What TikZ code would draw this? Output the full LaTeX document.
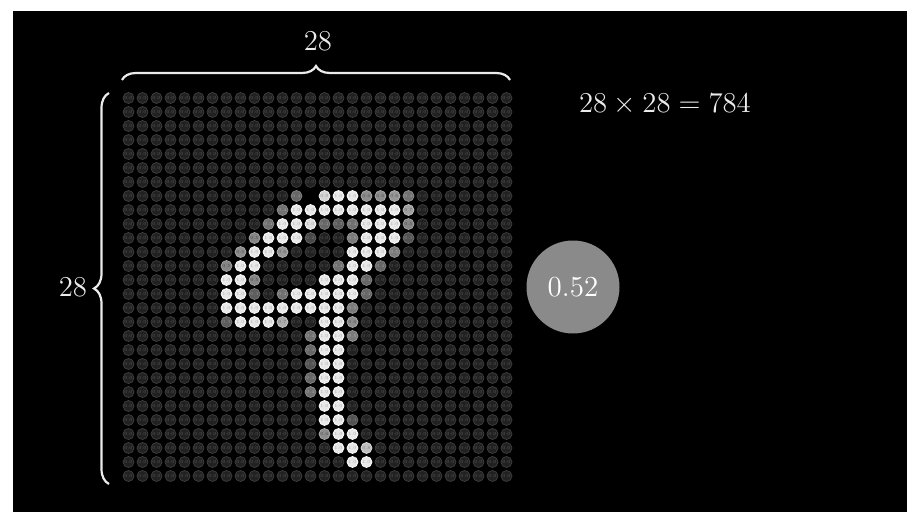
\documentclass[tikz,border=0pt]{standalone}
\usepackage{tikz}
\usetikzlibrary{decorations.pathreplacing}
\colorlet{pixink}{white!92!black}
\colorlet{pixframe}{black}
\tikzset{
  pixcell/.style={circle,inner sep=0pt,minimum size=5.5pt,line width=0.35pt,
                  font=\fontsize{2.3}{3}\selectfont},
  pixhole/.style={pixcell,fill=black,draw=black,text=black},
  pixbrace/.style={decorate,decoration={brace,amplitude=#1},draw=pixink,line width=1.1pt},
  pixlabel/.style={text=pixink,font=\fontsize{15.5}{18}\selectfont},
  pixout/.style={circle,fill=white!54!black,minimum size=46.5pt,inner sep=0pt,
                 text=white,font=\fontsize{14.5}{17}\selectfont}
}
\foreach \row/\col/\pval in {
  7/12/0.35,7/14/0.9,7/15/1.0,7/16/1.0,7/17/0.55,7/18/0.55,7/19/0.6,7/20/0.4,
  8/11/0.4,8/12/1.0,8/13/1.0,8/14/1.0,8/15/1.0,8/16/1.0,8/17/1.0,8/18/1.0,8/19/1.0,8/20/0.65,
  9/10/0.4,9/11/1.0,9/12/1.0,9/13/0.95,9/14/0.35,9/15/0.3,9/16/0.4,9/17/1.0,9/18/1.0,9/19/1.0,9/20/0.5,
  10/9/0.5,10/10/1.0,10/11/1.0,10/12/1.0,10/13/0.2,10/16/0.45,10/17/1.0,10/18/1.0,10/19/1.0,10/20/0.25,
  11/8/0.55,11/9/1.0,11/10/1.0,11/11/0.6,11/16/1.0,11/17/1.0,11/18/1.0,11/19/0.45,
  12/7/0.5,12/8/1.0,12/9/1.0,12/15/0.4,12/16/1.0,12/17/1.0,12/18/0.35,
  13/7/1.0,13/8/1.0,13/9/0.5,13/14/1.0,13/15/1.0,13/16/1.0,13/17/0.35,
  14/7/1.0,14/8/1.0,14/9/0.3,14/11/0.4,14/12/1.0,14/13/1.0,14/14/1.0,14/15/1.0,14/16/1.0,14/17/0.35,
  15/7/1.0,15/8/1.0,15/9/1.0,15/10/1.0,15/11/1.0,15/12/1.0,15/13/1.0,15/14/1.0,15/15/1.0,15/16/0.45,
  16/7/0.3,16/8/1.0,16/9/1.0,16/10/1.0,16/11/0.7,16/14/1.0,16/15/1.0,16/16/0.55,
  17/13/0.4,17/14/1.0,17/15/1.0,17/16/0.45,
  18/13/0.35,18/14/1.0,18/15/1.0,
  19/13/0.25,19/14/1.0,19/15/1.0,
  20/13/0.35,20/14/1.0,20/15/1.0,
  21/13/0.4,21/14/1.0,21/15/1.0,
  22/14/1.0,22/15/1.0,
  23/14/1.0,23/15/1.0,23/16/0.25,
  24/14/0.55,24/15/1.0,24/16/1.0,
  25/15/1.0,25/16/1.0,25/17/0.8,
  26/16/1.0,26/17/1.0}{
  \expandafter\xdef\csname pv-\row-\col\endcsname{\pval}
}
\expandafter\gdef\csname pk-7-13\endcsname{}
\begin{document}
\begin{tikzpicture}[x=0.5pt,y=-0.5pt]
  \useasboundingbox (0,0) rectangle (916,524);
  \fill[white] (0,0) rectangle (916,524);
  \fill[pixframe] (13,11) rectangle (907,512);

  \foreach \row in {0,...,27}{
    \foreach \col in {0,...,27}{
      \ifcsname pv-\row-\col\endcsname
        \edef\pv{\csname pv-\row-\col\endcsname}
      \else
        \def\pv{0}
      \fi
      \pgfmathtruncatemacro\lvl{13+78*\pv}
      \pgfmathtruncatemacro\elvl{min(100,\lvl+12)}
      \pgfmathtruncatemacro\tlvl{\lvl<50 ? \lvl+22 : \lvl-24}
      \ifcsname pk-\row-\col\endcsname
        \node[pixhole] (p-\row-\col) at ({128.5+14*\col},{98+14*\row}) {0.0};
      \else
        \node[pixcell,fill=white!\lvl!black,draw=white!\elvl!black,text=white!\tlvl!black]
          (p-\row-\col) at ({128.5+14*\col},{98+14*\row})
          {\pgfmathprintnumber[fixed,precision=1,fixed zerofill,assume math mode=true]{\pv}};
      \fi
    }
  }

  \coordinate (topl) at (122,80);
  \coordinate (topr) at (510,80);
  \coordinate (leftb) at (109,484);
  \coordinate (leftt) at (109,93);
  \draw[pixbrace=7pt] (topl) -- (topr);
  \draw[pixbrace=7.5pt] (leftb) -- (leftt);

  \node[pixlabel] (topn) at (318,41) {$28$};
  \node[pixlabel] (leftn) at (73,287) {$28$};
  \node[pixlabel] (eqn) at (665,104) {$28\times28=784$};
  \node[pixout] (act) at (573,287) {0.52};
\end{tikzpicture}
\end{document}
